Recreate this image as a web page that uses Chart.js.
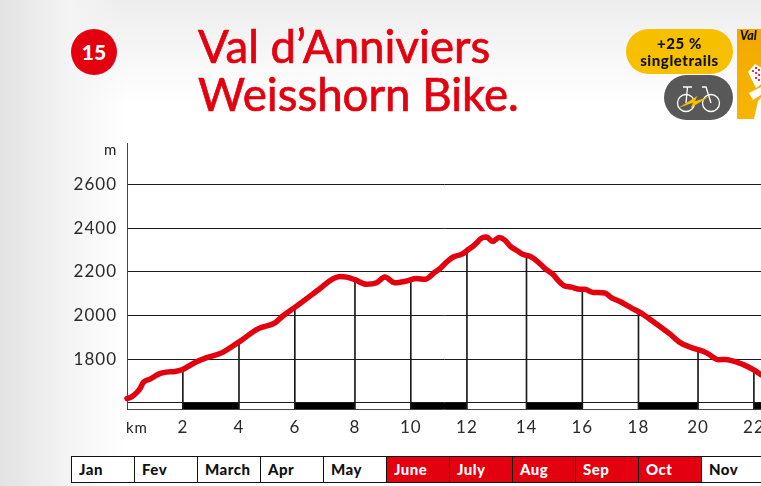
<!DOCTYPE html>
<html>
<head>
<meta charset="utf-8">
<script src="https://cdn.jsdelivr.net/npm/chart.js@4"></script>
<style>
html,body{margin:0;padding:0;width:761px;height:486px;overflow:hidden;background:#fff}
#page{position:relative;width:761px;height:486px;overflow:hidden;font-family:Lato,sans-serif;
background:linear-gradient(to right,#e3e3e3 0,#f4f4f4 70px,rgba(255,255,255,0) 125px),linear-gradient(to bottom,#ededed 0,#f6f6f6 50px,#fff 105px)}
canvas{position:absolute;left:0;top:0}
.abs{position:absolute;white-space:nowrap}
#badge{left:71px;top:29px;width:46px;height:46px;border-radius:50%;background:#e3000f;color:#fff;font-weight:900;font-size:21px;line-height:46px;text-align:center}
#title{left:198px;top:22px;color:#e3000f;font-size:45.6px;line-height:47.5px;font-weight:400;-webkit-text-stroke:.7px #e3000f}
#pill1{left:626px;top:29px;width:107px;height:45px;border-radius:23px;background:#f6c000;color:#111;font-weight:900;font-size:15px;letter-spacing:.55px;line-height:17px;text-align:center;padding-top:6px;box-sizing:border-box}
#pill2{left:664px;top:75px;width:69px;height:45px;border-radius:23px;background:#585858}
#promo{left:737px;top:29px;width:30px;height:90px;background:linear-gradient(#f2a900,#f7b500);overflow:hidden}
#promo i{position:absolute;left:3px;top:-1px;font-size:12.5px;font-weight:900;color:#111}
.unit{color:#222;font-size:15px}
#months{left:71px;top:456px;display:flex;height:27px}
#months div{width:63px;height:27px;box-sizing:border-box;border:1px solid #111;border-right:0;font-weight:900;font-size:15px;line-height:24px;padding-left:7px;color:#111;letter-spacing:.5px;background:#fff}
#months div.on{background:#e3000f;color:#fff}
</style>
</head>
<body>
<div id="page">
<canvas id="c" width="761" height="486"></canvas>
<div class="abs" id="badge">15</div>
<div class="abs" id="title">Val d’Anniviers<br>Weisshorn Bike.</div>
<div class="abs" id="pill1">+25 %<br>singletrails</div>
<div class="abs" id="pill2">
<svg width="69" height="45" viewBox="0 0 69 45" fill="none" stroke="#fff" stroke-width="1.3">
<circle cx="22" cy="28" r="8.500"/><circle cx="47" cy="28" r="8.500"/>
<path d="M23.500 12 L22 28 M19 12 H28 M38 12 H42 L47 28"/>
<path d="M14.300 33 L33.300 21 L31 26.300 L44.300 22 L26.700 33 L29 27.700 Z" fill="#f6c000" stroke="none"/>
</svg>
</div>
<div class="abs" id="promo"><i>Val</i>
<svg width="30" height="90" style="position:absolute;left:0;top:0">
<path d="M18 35 L30 42 L30 51 L19 59 L11 43 Z" fill="#fff"/>
<g fill="#e3000f"><circle cx="16" cy="42" r="1.100"/><circle cx="19" cy="39" r="1.100"/><circle cx="19" cy="44" r="1.100"/><circle cx="22" cy="41" r="1.100"/><circle cx="22" cy="46" r="1.100"/><circle cx="19" cy="49" r="1.100"/><circle cx="22" cy="51" r="1.100"/></g>
<path d="M12 64 L30 55 L30 62 L16 71 Z" fill="#fff"/>
<path d="M21 72 L17 90 L30 90 L30 62 Z" fill="#fff"/>
</svg></div>
<div class="abs unit" style="left:104px;top:140px">m</div>
<div class="abs unit" style="left:126px;top:418px;letter-spacing:1px">km</div>
<div class="abs" id="months"></div>
</div>
<script>
const monthNames = ["Jan","Fev","March","Apr","May","June","July","Aug","Sep","Oct","Nov"];
const activeMonths = ["June","July","Aug","Sep","Oct"];
const distanceKm = [0,0.16,0.34,0.46,0.57,0.81,1.13,1.39,1.68,1.95,2.39,2.80,3.32,3.91,4.61,5.19,5.48,5.95,6.66,7.24,7.47,7.71,8.00,8.41,8.76,9.05,9.40,9.81,10.16,10.46,10.81,10.98,11.22,11.45,11.74,11.98,12.21,12.45,12.62,12.83,13.06,13.26,13.46,13.67,13.91,14.14,14.43,14.67,14.96,15.13,15.33,15.60,15.89,16.07,16.34,16.77,17.01,17.30,17.71,18.00,18.47,19.05,19.40,19.75,20.34,20.75,20.98,21.63,21.98,22.25];
const elevationM = [1620,1628,1647,1666,1693,1709,1733,1741,1744,1753,1785,1807,1829,1877,1940,1966,1999,2043,2112,2169,2179,2176,2164,2143,2150,2176,2150,2158,2169,2166,2199,2215,2245,2268,2280,2302,2325,2355,2360,2339,2357,2345,2317,2299,2279,2271,2245,2215,2187,2161,2137,2130,2120,2120,2106,2103,2081,2064,2034,2014,1972,1916,1877,1856,1829,1798,1799,1775,1752,1729];
const kmTickLabels = ["2","4","6","8","10","12","14","16","18","20","22"];
const kmTickAt = [1.96,3.93,5.89,8.00,9.96,11.93,14.02,15.98,17.95,20.04,22.00];
const dropTops = [1753,1877,2043,2164,2169,2302,2275,2120,2014,1838,1752];
const elevationTicks = [1600,1800,2000,2200,2400,2600];
const scaleBlocks = [[1.96,3.93],[5.89,8.00],[9.96,11.93],[14.02,15.98],[17.95,20.04],[22.00,22.25]];

const RED = "#e3000f", INK = "#1a1a1a", AXIS_FLOOR = 1572, BLOCK_MID = 1586;

const monthsEl = document.getElementById("months");
monthNames.forEach(m => {
  const d = document.createElement("div");
  d.textContent = m;
  if (activeMonths.includes(m)) d.className = "on";
  monthsEl.appendChild(d);
});

const tickFont = {family:"Lato", size:17, weight:"400"};
const spacedLabels = {id:"spacedLabels", beforeDraw(chart){ chart.ctx.letterSpacing = "1px"; }};
new Chart(document.getElementById("c"), {
  plugins:[spacedLabels],
  data: {
    datasets: [
      ...scaleBlocks.map(b => ({
        type:"line", order:5, data:[{x:b[0],y:BLOCK_MID},{x:b[1],y:BLOCK_MID}],
        pointRadius:0, borderWidth:6, borderColor:"#000", borderCapStyle:"butt", fill:false, tension:0
      })),
      {
        type:"bar", order:4, barThickness:1, backgroundColor:INK, borderWidth:0,
        data: kmTickAt.map((k,i) => ({x:k, y:[AXIS_FLOOR, dropTops[i]]}))
      },
      {
        type:"line", order:1, label:"Elevation",
        data: distanceKm.map((k,i) => ({x:k, y:elevationM[i]})),
        borderColor:RED, borderWidth:5.5, pointRadius:0, fill:false,
        cubicInterpolationMode:"monotone", borderCapStyle:"round", borderJoinStyle:"round", clip:false
      }
    ]
  },
  options: {
    responsive:false, animation:false, devicePixelRatio:1,
    layout:{padding:{left:0,top:143,right:0,bottom:0}},
    plugins:{legend:{display:false},tooltip:{enabled:false}},
    scales:{
      x:{
        type:"linear", min:0, max:22.25, offset:false,
        grid:{display:false,drawTicks:false},
        border:{display:true,color:"#444",width:1},
        afterBuildTicks(s){ s.ticks = kmTickAt.map(v => ({value:v})); },
        afterFit(s){ s.height = 77; s.paddingLeft = 0; s.paddingRight = 0; },
        ticks:{autoSkip:false,maxRotation:0,minRotation:0,padding:8,color:"#2a2a2a",font:tickFont,
          callback(v){ const i = kmTickAt.indexOf(v); return i<0?"":kmTickLabels[i]; }}
      },
      y:{
        type:"linear", min:AXIS_FLOOR, max:2790,
        grid:{display:true,drawTicks:false,color:INK,lineWidth:1},
        border:{display:true,color:"#444",width:1},
        afterBuildTicks(s){ s.ticks = elevationTicks.map(v => ({value:v})); },
        afterFit(s){ s.width = 127; s.paddingTop = 0; s.paddingBottom = 0; },
        ticks:{padding:10,color:"#2a2a2a",font:tickFont,
          callback(v){ return v===1600?"":String(v); }}
      }
    }
  }
});
</script>
</body>
</html>
